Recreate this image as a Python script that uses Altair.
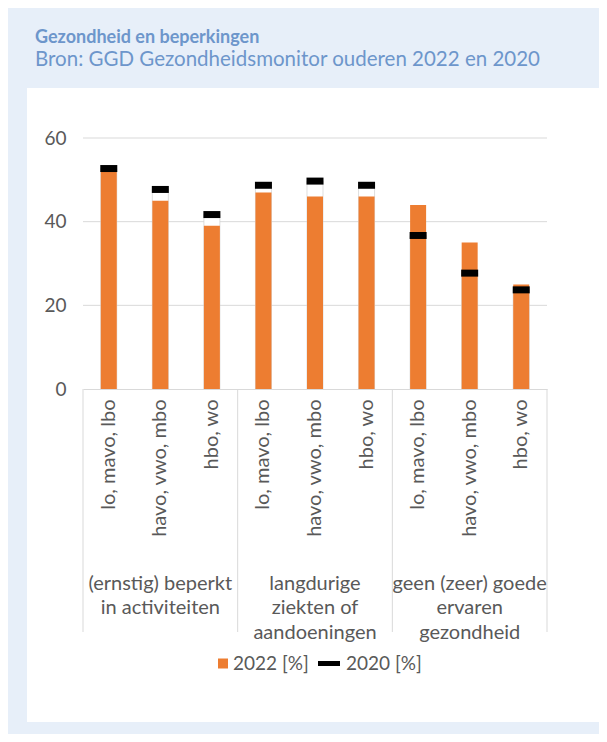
import altair as alt
import pandas as pd

# ---- data ----
groups = ["(ernstig) beperkt\nin activiteiten",
          "langdurige\nziekten of\naandoeningen",
          "geen (zeer) goede\nervaren\ngezondheid"]
education = ["lo, mavo, lbo", "havo, vwo, mbo", "hbo, wo"]
v2022 = [52, 45, 39, 47, 46, 46, 44, 35, 25]
v2020 = [52.7, 47.7, 41.7, 48.7, 49.7, 48.7, 36.7, 27.7, 23.7]
y_ticks = [0, 20, 40, 60]
legend_labels = ["2022 [%]", "2020 [%]"]
title_text = "Gezondheid en beperkingen"
subtitle_text = "Bron: GGD Gezondheidsmonitor ouderen 2022 en 2020"

ORANGE = "#ED7D31"
GREY_TXT = "#595959"
GRID = "#d9d9d9"
BLUE_BG = "#e7eff9"
TITLE_BLUE = "#6d96cb"
FONT = "Lato"

W, H = 464, 251

rows = []
for gi, g in enumerate(groups):
    for ei, e in enumerate(education):
        i = gi * 3 + ei
        rows.append({"key": f"{i}|{e}", "group": g, "edu": e,
                     "v2022": v2022[i], "v2020": v2020[i]})
df = pd.DataFrame(rows)
order = list(df["key"])

xscale = alt.Scale(domain=order, paddingInner=0, paddingOuter=0)
yscale = alt.Scale(domain=[0, 60], nice=False, zero=True)

panel = alt.Chart(pd.DataFrame({"a": [1]})).mark_rect(color="white").encode(
    x=alt.value(-56), x2=alt.value(520), y=alt.value(-50), y2=alt.value(584)
)

grid = alt.Chart(pd.DataFrame({"t": y_ticks[1:]})).mark_rule(color=GRID, strokeWidth=1).encode(
    y=alt.Y("t:Q", scale=yscale),
    x=alt.value(0), x2=alt.value(W)
)

white_bars = alt.Chart(df).mark_bar(width=16, color="white", stroke="#d0d0d0", strokeWidth=0.7).encode(
    x=alt.X("key:N", sort=order, scale=xscale),
    y=alt.Y("v2020:Q", scale=yscale),
)

bars = alt.Chart(df).mark_bar(width=16, color=ORANGE).encode(
    x=alt.X("key:N", sort=order, scale=xscale,
            axis=alt.Axis(title=None, labelAngle=-90, labelAlign="right", labelBaseline="middle",
                          labelExpr="split(datum.label, '|')[1]", labelPadding=10,
                          ticks=False, domain=True, domainColor=GRID, domainWidth=1,
                          labelFont=FONT, labelFontSize=20, labelColor=GREY_TXT, zindex=1)),
    y=alt.Y("v2022:Q", scale=yscale,
            axis=alt.Axis(title=None, values=y_ticks, grid=False, domain=False, ticks=False,
                          labelPadding=17, labelFont=FONT, labelFontSize=19, labelColor=GREY_TXT,
                          zindex=1)),
)

ticks = alt.Chart(df).mark_tick(color="black", thickness=7, size=17, opacity=1).encode(
    x=alt.X("key:N", sort=order, scale=xscale),
    y=alt.Y("v2020:Q", scale=yscale),
)

sep_start = alt.Chart(df.iloc[[0, 3, 6]]).mark_rule(color=GRID, strokeWidth=1).encode(
    x=alt.X("key:N", sort=order, scale=xscale, bandPosition=0),
    y=alt.value(H), y2=alt.value(494),
)
sep_end = alt.Chart(df.iloc[[8]]).mark_rule(color=GRID, strokeWidth=1).encode(
    x=alt.X("key:N", sort=order, scale=xscale, bandPosition=1),
    y=alt.value(H), y2=alt.value(494),
)

group_labels = alt.Chart(df.iloc[[1, 4, 7]]).mark_text(
    font=FONT, fontSize=20, color=GREY_TXT, lineBreak="\n", lineHeight=24.5,
    align="center", baseline="alphabetic"
).encode(
    x=alt.X("key:N", sort=order, scale=xscale, bandPosition=0.5),
    y=alt.value(451.5),
    text="group:N",
)

leg_df = pd.DataFrame({"label": legend_labels})
leg_sq = alt.Chart(leg_df.iloc[[0]]).mark_square(color=ORANGE, size=100, opacity=1).encode(
    x=alt.value(140), y=alt.value(525.5)
)
leg_line = alt.Chart(leg_df.iloc[[1]]).mark_rule(color="black", strokeWidth=5).encode(
    x=alt.value(235), x2=alt.value(257), y=alt.value(525.5)
)
leg_t1 = alt.Chart(leg_df.iloc[[0]]).mark_text(font=FONT, fontSize=19, color=GREY_TXT,
                                               align="left", baseline="middle").encode(
    x=alt.value(150), y=alt.value(525.5), text="label:N")
leg_t2 = alt.Chart(leg_df.iloc[[1]]).mark_text(font=FONT, fontSize=19, color=GREY_TXT,
                                               align="left", baseline="middle").encode(
    x=alt.value(263), y=alt.value(525.5), text="label:N")

t1 = alt.Chart(pd.DataFrame({"t": [title_text]})).mark_text(
    font=FONT, fontSize=18, fontWeight="bold", color=TITLE_BLUE, align="left", baseline="alphabetic"
).encode(x=alt.value(-48), y=alt.value(-95), text="t:N")
t2 = alt.Chart(pd.DataFrame({"t": [subtitle_text]})).mark_text(
    font=FONT, fontSize=20.5, color=TITLE_BLUE, align="left", baseline="alphabetic"
).encode(x=alt.value(-48), y=alt.value(-72.5), text="t:N")

chart = alt.layer(
    panel, grid, white_bars, bars, ticks, sep_start, sep_end, group_labels,
    leg_sq, leg_line, leg_t1, leg_t2, t1, t2
).properties(
    width=W, height=H,
    autosize=alt.AutoSizeParams(type="none"),
    padding={"left": 75, "top": 130, "right": 52, "bottom": 345},
    background=BLUE_BG,
).configure_view(stroke=None)

chart.save("out.html", embed_options={"renderer": "svg", "actions": False})
